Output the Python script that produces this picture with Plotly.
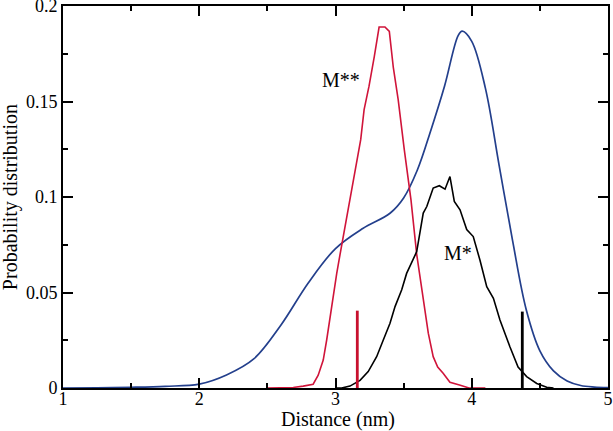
import plotly.graph_objects as go

# Blue curve
blue_x = [1.0, 1.25, 1.5, 1.75, 2.0, 2.2, 2.4, 2.6, 2.8, 3.0, 3.2, 3.4, 3.5, 3.6, 3.7, 3.8,
          3.9, 3.93, 4.0, 4.1, 4.2, 4.3, 4.4, 4.5, 4.6, 4.7, 4.8, 4.9, 5.0]
blue_y = [0.0, 0.0001, 0.0004, 0.0009, 0.002, 0.0068, 0.0152, 0.033, 0.055, 0.073, 0.0835,
          0.0915, 0.0995, 0.114, 0.135, 0.158, 0.1845, 0.1868, 0.1815, 0.157, 0.117, 0.077,
          0.041, 0.0195, 0.009, 0.0037, 0.0013, 0.0005, 0.0002]

# Red curve (M**)
red_x = [2.5, 2.69, 2.763, 2.836, 2.873, 2.91, 2.935, 2.96, 2.985, 3.009, 3.026, 3.053, 3.119,
         3.155, 3.185, 3.21, 3.246, 3.285, 3.32, 3.363, 3.395, 3.424, 3.46, 3.505, 3.554, 3.596,
         3.644, 3.681, 3.717, 3.75, 3.79, 3.84, 3.91, 3.98, 4.1]
red_y = [0.0, 0.0003, 0.001, 0.002, 0.0067, 0.0146, 0.025, 0.0374, 0.0496, 0.060, 0.067, 0.0776,
         0.1038, 0.1178, 0.130, 0.1457, 0.158, 0.1736, 0.189, 0.189, 0.1867, 0.168, 0.151, 0.1247,
         0.0985, 0.070, 0.0461, 0.0287, 0.0164, 0.011, 0.0077, 0.003, 0.0016, 0.0, 0.0]

# Black curve (M*)
black_x = [3.0, 3.045, 3.106, 3.18, 3.24, 3.302, 3.35, 3.40, 3.437, 3.486, 3.522, 3.56, 3.596,
           3.644, 3.67, 3.717, 3.74, 3.762, 3.804, 3.84, 3.872, 3.914, 3.963, 4.011, 4.06, 4.11,
           4.159, 4.207, 4.28, 4.34, 4.403, 4.477, 4.55, 4.6]
black_y = [0.0, 0.0, 0.001, 0.004, 0.0086, 0.0164, 0.025, 0.0339, 0.0426, 0.0514, 0.060, 0.066,
           0.0714, 0.0916, 0.095, 0.1047, 0.1055, 0.1059, 0.1041, 0.1107, 0.0977, 0.0933, 0.083,
           0.0793, 0.067, 0.053, 0.047, 0.0356, 0.0216, 0.011, 0.006, 0.0024, 0.0004, 0.0]

# Vertical marker bars
bar_red_x = [3.16, 3.16]
bar_red_y = [-0.0045, 0.0405]
bar_black_x = [4.371, 4.371]
bar_black_y = [-0.0045, 0.0400]

# Labels
label_text = ["M**", "M*"]
label_x = [3.04, 3.90]
label_y = [0.161, 0.0708]

BLUE = "#233f8c"
RED = "#d0143a"
FONT = "Liberation Serif"

fig = go.Figure()
fig.add_trace(go.Scatter(x=blue_x, y=blue_y, mode="lines",
                         line=dict(color=BLUE, width=1.7, shape="spline", smoothing=1.0),
                         hoverinfo="skip"))
fig.add_trace(go.Scatter(x=red_x, y=red_y, mode="lines",
                         line=dict(color=RED, width=1.6), hoverinfo="skip"))
fig.add_trace(go.Scatter(x=black_x, y=black_y, mode="lines",
                         line=dict(color="black", width=1.6), hoverinfo="skip"))
fig.add_trace(go.Scatter(x=bar_red_x, y=bar_red_y, mode="lines", cliponaxis=False,
                         line=dict(color="#c8102e", width=2.8), hoverinfo="skip"))
fig.add_trace(go.Scatter(x=bar_black_x, y=bar_black_y, mode="lines", cliponaxis=False,
                         line=dict(color="black", width=2.8), hoverinfo="skip"))

for t, xx, yy in zip(label_text, label_x, label_y):
    fig.add_annotation(x=xx, y=yy, text=t, showarrow=False,
                       font=dict(family=FONT, size=20, color="black"))

# Axis titles as paper annotations for precise placement
fig.add_annotation(x=0.505, y=-0.082, xref="paper", yref="paper", text="Distance (nm)",
                   showarrow=False, xanchor="center", yanchor="middle",
                   font=dict(family=FONT, size=20, color="black"))
fig.add_annotation(x=-0.097, y=0.5, xref="paper", yref="paper", text="Probability distribution",
                   showarrow=False, xanchor="center", yanchor="middle", textangle=-90,
                   font=dict(family=FONT, size=20, color="black"))

axis_common = dict(
    showgrid=False, zeroline=False, showline=True, linecolor="black", linewidth=1.6,
    mirror="allticks", ticks="inside", ticklen=10, tickwidth=1.5, tickcolor="black",
    automargin=False, ticklabeloverflow="allow",
    tickfont=dict(family=FONT, size=18, color="black"),
)

fig.update_layout(
    width=613, height=431,
    margin=dict(l=63, r=5, t=6, b=43),
    paper_bgcolor="white", plot_bgcolor="white",
    showlegend=False,
    xaxis=dict(range=[1, 5], tickmode="linear", tick0=1, dtick=1, ticklabelstandoff=-6,
               minor=dict(ticks="inside", ticklen=5, dtick=0.5, tick0=1, tickwidth=1.5,
                          tickcolor="black"),
               **axis_common),
    yaxis=dict(range=[0, 0.2], tickmode="linear", tick0=0, dtick=0.05,
               minor=dict(ticks="inside", ticklen=5, dtick=0.025, tick0=0, tickwidth=1.5,
                          tickcolor="black"),
               **axis_common),
)

fig.write_html("out.html", post_script="document.body.style.margin='0';",
               config={"displayModeBar": False})
